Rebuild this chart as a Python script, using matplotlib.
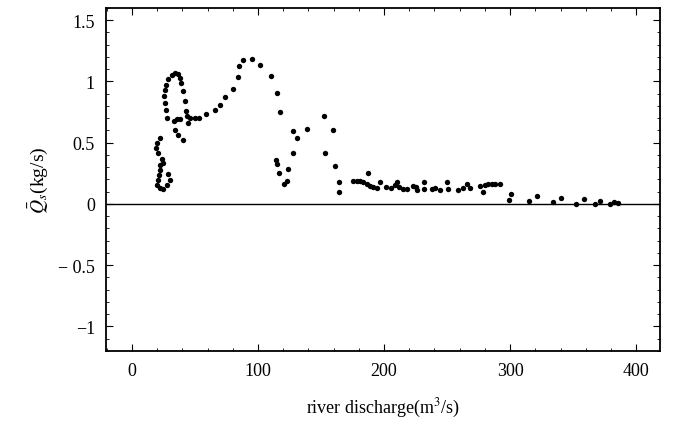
import numpy as np
import matplotlib
matplotlib.use("Agg")
import matplotlib.pyplot as plt
from matplotlib.ticker import MultipleLocator, FixedLocator

# values, (discharge m3/s, Qs kg/s)
lowX = [22.2, 19.8, 19.1, 20.6, 23.8, 24.6, 22.2, 22.2, 21.5, 20.6, 19.8, 22.2, 24.6, 27.8, 30.2, 28.6]
lowY = [0.541, 0.500, 0.459, 0.418, 0.369, 0.336, 0.320, 0.279, 0.238, 0.197, 0.156, 0.131, 0.123, 0.156, 0.197, 0.246]

loopX = [27.6, 27.0, 26.4, 25.7, 26.2, 27.0, 28.8, 31.5, 34.2, 36.8, 38.1, 38.7, 40.2, 42.1, 42.8, 43.9, 44.7,
         33.3, 35.9, 38.1, 34.2, 36.8, 40.8, 46.0, 50.0, 53.4]
loopY = [0.702, 0.770, 0.825, 0.880, 0.934, 0.975, 1.016, 1.049, 1.066, 1.057, 1.030, 0.989, 0.920, 0.839, 0.757, 0.716, 0.661,
         0.675, 0.694, 0.697, 0.607, 0.566, 0.525, 0.702, 0.702, 0.702]

midX = [58.8, 65.9, 69.9, 73.9, 80.4, 84.3, 85.2, 88.3, 95.0, 101.6, 110.1, 114.8, 117.4, 128.0, 131.2, 138.6, 152.1, 159.8,
        127.4, 153.4, 114.5, 115.0, 124.0, 116.8, 122.8, 120.9, 161.1, 164.3, 164.3]
midY = [0.738, 0.765, 0.811, 0.871, 0.940, 1.039, 1.125, 1.172, 1.186, 1.134, 1.043, 0.907, 0.752, 0.594, 0.535, 0.613, 0.719, 0.607,
        0.416, 0.416, 0.361, 0.324, 0.287, 0.252, 0.183, 0.164, 0.306, 0.176, 0.100]

flatX = [175.7, 178.3, 180.9, 183.5, 186.3, 187.5, 188.9, 191.5, 194.6, 196.8, 201.6, 205.3, 208.7, 210.6, 212.1, 215.3, 218.0,
         222.8, 225.4, 226.4, 231.7, 231.7, 237.8, 240.4, 244.4, 249.8, 251.0, 259.0, 263.0, 265.7, 268.3, 276.2,
         278.4, 280.1, 282.8, 285.5, 288.1, 291.6]
flatY = [0.191, 0.189, 0.183, 0.175, 0.164, 0.252, 0.148, 0.137, 0.129, 0.175, 0.134, 0.129, 0.156, 0.175, 0.137, 0.120, 0.120,
         0.148, 0.134, 0.115, 0.175, 0.120, 0.120, 0.129, 0.115, 0.180, 0.120, 0.115, 0.129, 0.164, 0.129, 0.148,
         0.096, 0.156, 0.161, 0.161, 0.161, 0.164]

tailX = [298.7, 300.6, 315.3, 321.6, 333.6, 340.3, 352.4, 358.2, 367.5, 370.9, 379.3, 382.0, 385.2]
tailY = [0.033, 0.080, 0.025, 0.066, 0.014, 0.047, -0.002, 0.039, -0.002, 0.027, 0.0, 0.014, 0.011]

xTicks = [0, 100, 200, 300, 400]
yTicks = [-1, -0.5, 0, 0.5, 1, 1.5]
yTickLabels = ["\u22121", "\u2212 0.5", "0", "0.5", "1", "1.5"]

x = np.array(lowX + loopX + midX + flatX + tailX)
y = np.array(lowY + loopY + midY + flatY + tailY)

plt.rcParams['font.family'] = ['Liberation Serif', 'DejaVu Serif']
plt.rcParams['mathtext.fontset'] = 'stix'

fig = plt.figure(figsize=(6.73, 4.27), dpi=100)
ax = fig.add_axes([0.1575, 0.176, 0.8235, 0.803])

ax.axhline(0, color='black', lw=1.0, zorder=1)
ax.scatter(x, y, s=15, color='black', linewidths=0, zorder=2)

ax.set_xlim(-20.5, 419)
ax.set_ylim(-1.2, 1.6)
ax.set_xticks(xTicks)
ax.yaxis.set_major_locator(FixedLocator(yTicks))
ax.set_yticklabels(yTickLabels)
ax.xaxis.set_minor_locator(MultipleLocator(20))
ax.yaxis.set_minor_locator(MultipleLocator(0.1))
ax.tick_params(which='both', direction='in', top=True, right=True, labelsize=13, pad=8)
ax.tick_params(which='major', length=5, width=0.8)
ax.tick_params(which='minor', length=2.5, width=0.6)
for s in ax.spines.values():
    s.set_linewidth(1.3)

ax.set_xlabel("river discharge(m$^3$/s)", fontsize=13, labelpad=12)
ax.set_ylabel(r"$\bar{Q}_s$(kg/s)", fontsize=14, labelpad=6)

fig.savefig("out.png", dpi=100)
